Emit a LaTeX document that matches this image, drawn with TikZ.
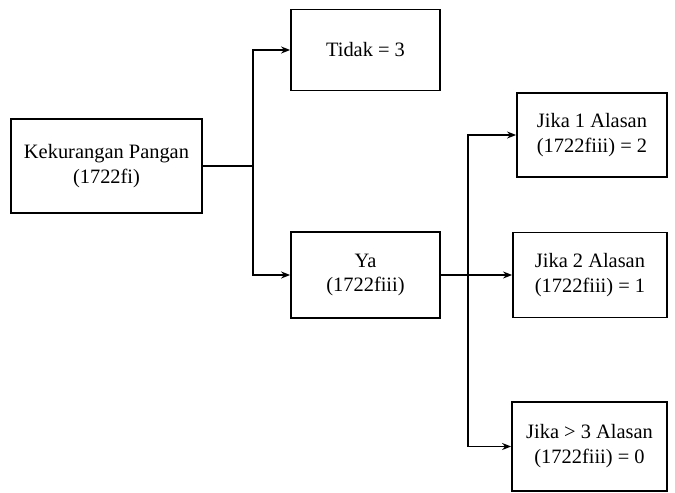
\documentclass[tikz,border=0pt]{standalone}
\usepackage{fontspec}
\setmainfont{Liberation Serif}
\usetikzlibrary{arrows.meta}
\begin{document}
\begin{tikzpicture}[x=1bp,y=-1bp,
  box/.style={draw,line width=1.8bp,inner sep=0pt,align=center,font=\fontsize{20.5}{25}\selectfont},
  conn/.style={line width=1.6bp},
  arr/.style={conn,-{Stealth[length=9bp,width=7bp]}}]
\useasboundingbox (0,0) rectangle (675,493);
\node[box,minimum width=191bp,minimum height=94bp] (kp) at (106.5,166) {Kekurangan Pangan\\(1722fi)};
\node[box,minimum width=149bp,minimum height=81bp] (td) at (365.5,50) {Tidak = 3};
\node[box,minimum width=149bp,minimum height=86bp] (ya) at (365.5,275) {Ya\\(1722fiii)};
\node[box,minimum width=150bp,minimum height=84bp] (j1) at (592,135) {Jika 1 Alasan\\(1722fiii) = 2};
\node[box,minimum width=154bp,minimum height=85bp] (j2) at (590,275) {Jika 2 Alasan\\(1722fiii) = 1};
\node[box,minimum width=155bp,minimum height=89bp] (j3) at (589.5,446.5) {Jika > 3 Alasan\\(1722fiii) = 0};
\coordinate (s1) at (253,166);
\coordinate (s2) at (468,275);
\draw[conn,line width=2.4bp] (kp.east) -- (s1);
\draw[arr] (s1) |- (td.west);
\draw[arr] (s1) |- (ya.west);
\draw[arr] (ya.east) -- (j2.west);
\draw[arr] (s2) |- (j1.west);
\draw[arr] (s2) |- (j3.west);
\end{tikzpicture}
\end{document}
